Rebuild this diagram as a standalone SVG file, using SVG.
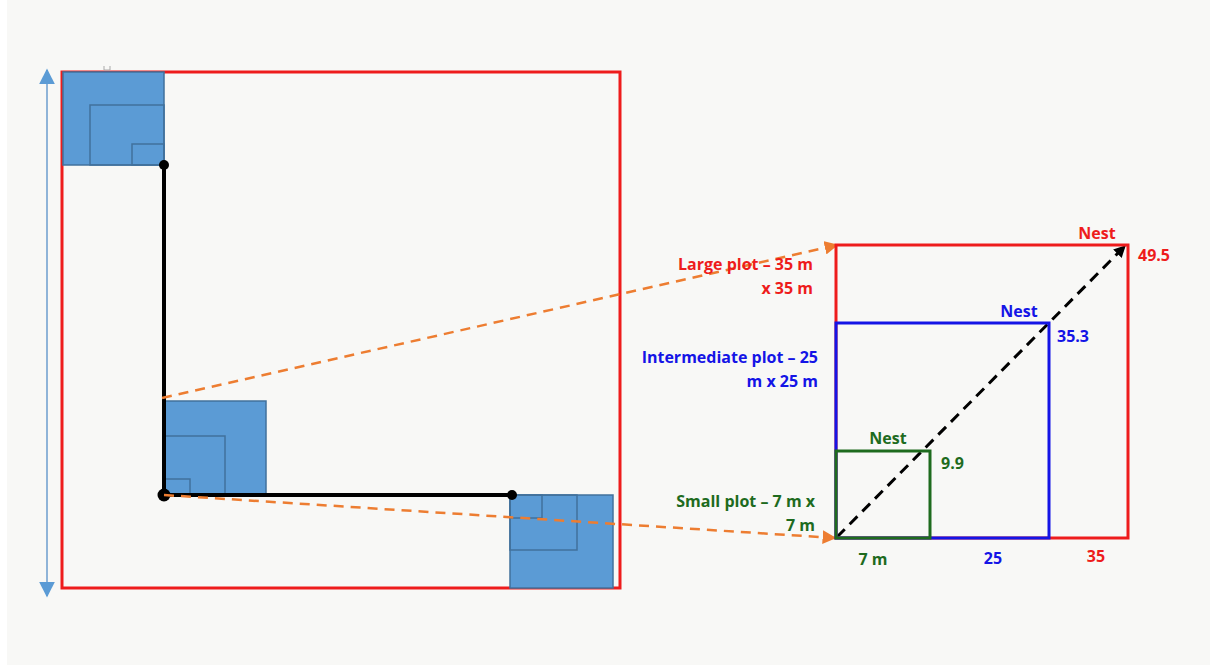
<svg xmlns="http://www.w3.org/2000/svg" width="1214" height="665" viewBox="0 0 1214 665">
<defs>
<style>
.bg{fill:#f8f8f6}
.red{fill:none;stroke:#ee1c1c;stroke-width:3}
.blu{fill:none;stroke:#1414e6;stroke-width:3}
.grn{fill:none;stroke:#1e6b1e;stroke-width:3}
.plot{fill:#5b9bd5;stroke:#41719c;stroke-width:1.5}
.sub{fill:none;stroke:#41719c;stroke-width:1.5}
.path{fill:none;stroke:#000;stroke-width:4}
.orange{fill:none;stroke:#ed7d31;stroke-width:2.5;stroke-dasharray:10 7}
.diag{fill:none;stroke:#000;stroke-width:3;stroke-dasharray:11 7}
text{font-family:"Open Sans","Liberation Sans",sans-serif;font-weight:bold;font-size:16px}
.tr{fill:#ee1c1c}.tb{fill:#1414e6}.tg{fill:#1e6b1e}
</style>
<marker id="ao" viewBox="0 0 10 10" refX="9" refY="5" markerWidth="5.5" markerHeight="5.5" orient="auto" markerUnits="strokeWidth"><path d="M0,0 L10,5 L0,10 z" fill="#ed7d31"/></marker>
<marker id="ak" viewBox="0 0 10 10" refX="9" refY="5" markerWidth="4" markerHeight="4" orient="auto" markerUnits="strokeWidth"><path d="M0,0 L10,5 L0,10 z" fill="#000"/></marker>
<marker id="ab" viewBox="0 0 10 10" refX="9" refY="5" markerWidth="8" markerHeight="8" orient="auto-start-reverse" markerUnits="strokeWidth"><path d="M0,0 L10,5 L0,10 z" fill="#5b9bd5"/></marker>
</defs>
<rect x="0" y="0" width="1214" height="665" fill="#ffffff"/>
<rect class="bg" x="7" y="0" width="1203" height="665"/>

<g id="site">
<rect class="red" x="62" y="72" width="558" height="516"/>
<path d="M104,66 v4 h6 v-4" fill="none" stroke="#aaa" stroke-width="1"/>
</g>
<g id="height-arrow">
<line x1="47" y1="70" x2="47" y2="596" stroke="#8fb4d8" stroke-width="2" marker-start="url(#ab)" marker-end="url(#ab)"/>
</g>

<g id="plot-top-left">
<rect class="plot" x="63" y="72" width="101" height="93"/>
<rect class="sub" x="90" y="105" width="74" height="60"/>
<rect class="sub" x="132" y="144" width="32" height="21"/>
</g>
<g id="plot-middle">
<rect class="plot" x="164" y="401" width="102" height="94"/>
<rect class="sub" x="163" y="436" width="62" height="59"/>
<rect class="sub" x="163" y="479" width="27" height="16"/>
</g>
<g id="plot-bottom-right">
<rect class="plot" x="510" y="495" width="103" height="93"/>
<rect class="sub" x="510" y="495" width="67" height="55"/>
<rect class="sub" x="510" y="495" width="32" height="23"/>
</g>

<g id="transect">
<path class="path" d="M164,165 V495 H512"/>
<circle cx="164" cy="165" r="5" fill="#000"/>
<circle cx="164" cy="495" r="6.5" fill="#000"/>
<circle cx="512" cy="495" r="5" fill="#000"/>
</g>

<g id="connectors">
<line class="orange" x1="162" y1="398" x2="837" y2="245" marker-end="url(#ao)"/>
<line class="orange" x1="164" y1="495" x2="835" y2="538" marker-end="url(#ao)"/>
<line class="diag" x1="837" y1="537" x2="1125" y2="246" marker-end="url(#ak)"/>
</g>

<g id="large-plot">
<rect class="red" x="836" y="245" width="292" height="293"/>
<text class="tr" x="1097" y="239" text-anchor="middle">Nest</text>
<text class="tr" x="1138" y="261">49.5</text>
<text class="tr" x="1096" y="562" text-anchor="middle">35</text>
<text class="tr" x="813" y="270" text-anchor="end">Large plot – 35 m</text>
<text class="tr" x="813" y="294" text-anchor="end">x 35 m</text>
</g>
<g id="intermediate-plot">
<rect class="blu" x="836" y="323" width="213" height="215"/>
<text class="tb" x="1019" y="317" text-anchor="middle">Nest</text>
<text class="tb" x="1057" y="342">35.3</text>
<text class="tb" x="993" y="564" text-anchor="middle">25</text>
<text class="tb" x="818" y="363" text-anchor="end">Intermediate plot – 25</text>
<text class="tb" x="818" y="387" text-anchor="end">m x 25 m</text>
</g>
<g id="small-plot">
<rect class="grn" x="836" y="451" width="94" height="87"/>
<text class="tg" x="888" y="444" text-anchor="middle">Nest</text>
<text class="tg" x="941" y="469">9.9</text>
<text class="tg" x="873" y="565" text-anchor="middle">7 m</text>
<text class="tg" x="815" y="507" text-anchor="end">Small plot – 7 m x</text>
<text class="tg" x="815" y="531" text-anchor="end">7 m</text>
</g>
</svg>
